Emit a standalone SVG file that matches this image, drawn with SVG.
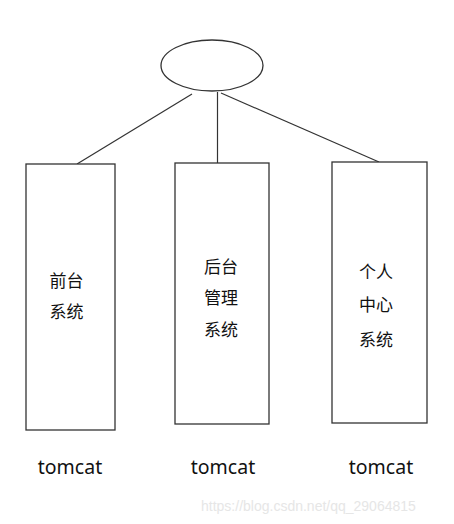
<svg xmlns="http://www.w3.org/2000/svg" width="454" height="524" viewBox="0 0 454 524">
<style>
.shape{fill:#fff;stroke:#333;stroke-width:1.3}
.conn{stroke:#333;stroke-width:1.2;fill:none}
.cn{font-family:"Noto Sans CJK SC","Noto Sans",sans-serif;font-size:17px;fill:#111;text-anchor:middle}
.lbl{font-family:"Noto Sans","DejaVu Sans",sans-serif;font-size:19.5px;fill:#111;text-anchor:middle}
.wm{font-family:"Liberation Sans",Arial,sans-serif;font-size:14px;fill:#e6e6e6}
</style>
<rect width="454" height="524" fill="#fff"/>
<g id="connectors">
<line class="conn" x1="192" y1="94" x2="77" y2="164"/>
<line class="conn" x1="217.5" y1="92" x2="217.5" y2="163"/>
<line class="conn" x1="221" y1="93" x2="379" y2="162"/>
</g>
<g id="root"><ellipse class="shape" cx="212" cy="65.5" rx="51" ry="25.5"/></g>
<g id="front">
<rect class="shape" x="26" y="164" width="89" height="266"/>
<text class="cn" x="66.5" y="287">前台</text>
<text class="cn" x="66.5" y="318">系统</text>
</g>
<g id="admin">
<rect class="shape" x="175" y="163" width="94" height="261"/>
<text class="cn" x="221" y="273">后台</text>
<text class="cn" x="221" y="304">管理</text>
<text class="cn" x="221" y="336">系统</text>
</g>
<g id="user">
<rect class="shape" x="332" y="162" width="95" height="261"/>
<text class="cn" x="376" y="278">个人</text>
<text class="cn" x="376" y="311">中心</text>
<text class="cn" x="376" y="346">系统</text>
</g>
<text class="lbl" x="70" y="474">tomcat</text>
<text class="lbl" x="223" y="474">tomcat</text>
<text class="lbl" x="381" y="474">tomcat</text>
<text class="wm" x="201" y="511">https://blog.csdn.net/qq_29064815</text>
</svg>
